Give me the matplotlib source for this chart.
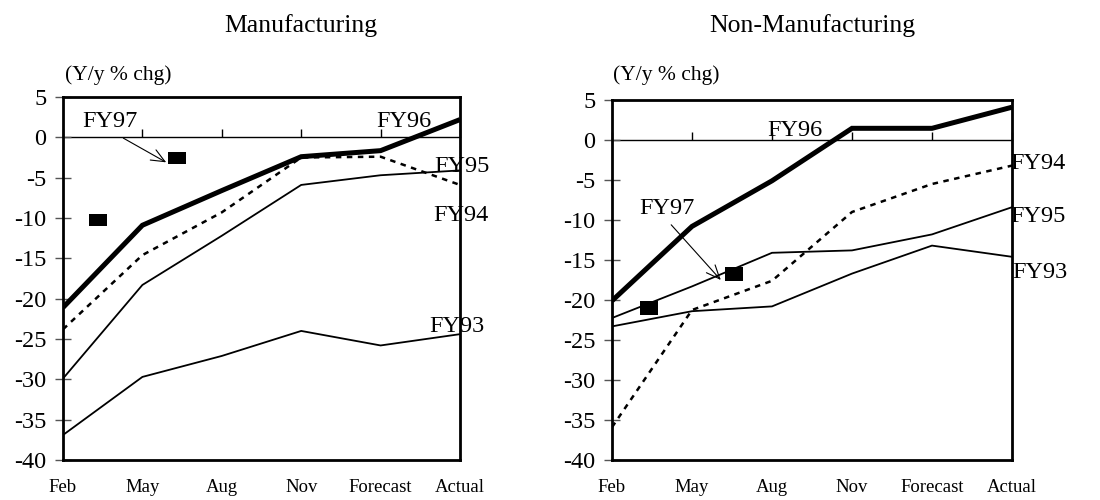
import matplotlib
matplotlib.use("Agg")
import matplotlib.pyplot as plt
import numpy as np

plt.rcParams['font.family'] = ['Liberation Serif', 'DejaVu Serif']
plt.rcParams['axes.unicode_minus'] = False

# ---------------- data ----------------
categories = ["Feb", "May", "Aug", "Nov", "Forecast", "Actual"]
yticks = list(range(-40, 6, 5))

# Manufacturing
man_fy93 = [-36.9, -29.7, -27.1, -24.0, -25.8, -24.4]
man_fy94 = [-23.8, -14.6, -9.3, -2.5, -2.4, -5.9]
man_fy95 = [-29.9, -18.3, -12.2, -5.9, -4.7, -4.1]
man_fy96 = [-21.1, -10.9, -6.6, -2.4, -1.65, 2.2]
man_fy97_x = [0.44, 1.43]
man_fy97_y = [-10.2, -2.5]

# Non-Manufacturing
non_fy93 = [-23.3, -21.4, -20.8, -16.7, -13.2, -14.6]
non_fy94 = [-35.9, -21.25, -17.6, -9.0, -5.5, -3.2]
non_fy95 = [-22.25, -18.3, -14.1, -13.8, -11.8, -8.4]
non_fy96 = [-20.1, -10.8, -5.1, 1.46, 1.46, 4.1]
non_fy97_x = [0.46, 1.53]
non_fy97_y = [-21.0, -16.8]

fig = plt.figure(figsize=(11, 5), dpi=100)

def rect_marker(aspect):
    return [(-1, -aspect), (1, -aspect), (1, aspect), (-1, aspect), (-1, -aspect)]

def setup(ax, fy93, fy94, fy95, fy96, fy97x, fy97y, aspect, labels, arrow, fy97text):
    x = np.arange(len(categories))
    ax.plot(x, fy93, color='black', lw=1.3, solid_joinstyle='miter')
    ax.plot(x, fy95, color='black', lw=1.3, solid_joinstyle='miter')
    ax.plot(x, fy94, color='black', lw=1.8, linestyle=(0, (2.2, 2.2)))
    ax.plot(x, fy96, color='black', lw=3.6, solid_joinstyle='miter', solid_capstyle='butt')
    ax.plot(fy97x, fy97y, linestyle='none', marker=rect_marker(aspect), markersize=12.3,
            color='black', markeredgewidth=0)
    ax.set_xlim(0, len(categories) - 1)
    ax.set_ylim(-40, 5)
    ax.set_yticks(yticks)
    ax.set_yticklabels([str(v) for v in yticks])
    ax.set_xticks(x)
    ax.set_xticklabels(categories)
    ax.tick_params(axis='x', length=0, pad=14, labelsize=13.5)
    ax.tick_params(axis='y', direction='inout', length=12, width=1, color='#555555',
                   pad=6, labelsize=17.5)
    for s in ax.spines.values():
        s.set_linewidth(2)
        s.set_color('black')
    # zero line with upward category ticks
    frac = (0 - (-40)) / (5 - (-40))
    sec = ax.secondary_xaxis(frac)
    sec.set_xticks(x)
    sec.tick_params(axis='x', direction='out', length=6, width=1, color='black',
                    labeltop=False, labelbottom=False)
    for s in sec.spines.values():
        s.set_linewidth(1)
    for txt, tx, ty in labels:
        ax.text(tx, ty, txt, ha='left', va='baseline', fontsize=17.5, clip_on=False)
    ax.text(fy97text[0], fy97text[1], "FY97", ha='left', va='baseline', fontsize=17.5,
            clip_on=False)
    ax.annotate("", xy=arrow[1], xytext=arrow[0],
                arrowprops=dict(arrowstyle='->,head_length=0.7,head_width=0.3',
                                color='black', lw=0.8, shrinkA=0, shrinkB=0,
                                mutation_scale=14))

ax1 = fig.add_axes([63/1100, 40/500, 397/1100, 363/500])
setup(ax1, man_fy93, man_fy94, man_fy95, man_fy96, man_fy97_x, man_fy97_y, 0.65,
      [("FY96", 3.94, 1.24), ("FY95", 4.68, -4.34), ("FY94", 4.66, -10.34),
       ("FY93", 4.61, -24.19)],
      ((0.76, -0.1), (1.30, -3.1)), (0.244, 1.24))

ax2 = fig.add_axes([612/1100, 40/500, 400/1100, 360/500])
setup(ax2, non_fy93, non_fy94, non_fy95, non_fy96, non_fy97_x, non_fy97_y, 0.82,
      [("FY96", 1.94, 0.54), ("FY94", 4.98, -3.6), ("FY95", 4.98, -10.3),
       ("FY93", 5.0, -17.2)],
      ((0.74, -10.6), (1.36, -17.5)), (0.34, -9.25))

fig.text(301/1100, 1 - 32.3/500, "Manufacturing", ha='center', va='baseline', fontsize=18.5)
fig.text(812/1100, 1 - 31.7/500, "Non-Manufacturing", ha='center', va='baseline', fontsize=18.5)
fig.text(65/1100, 1 - 80/500, "(Y/y % chg)", ha='left', va='baseline', fontsize=15.5)
fig.text(613/1100, 1 - 80/500, "(Y/y % chg)", ha='left', va='baseline', fontsize=15.5)

fig.savefig("out.png", dpi=100)
